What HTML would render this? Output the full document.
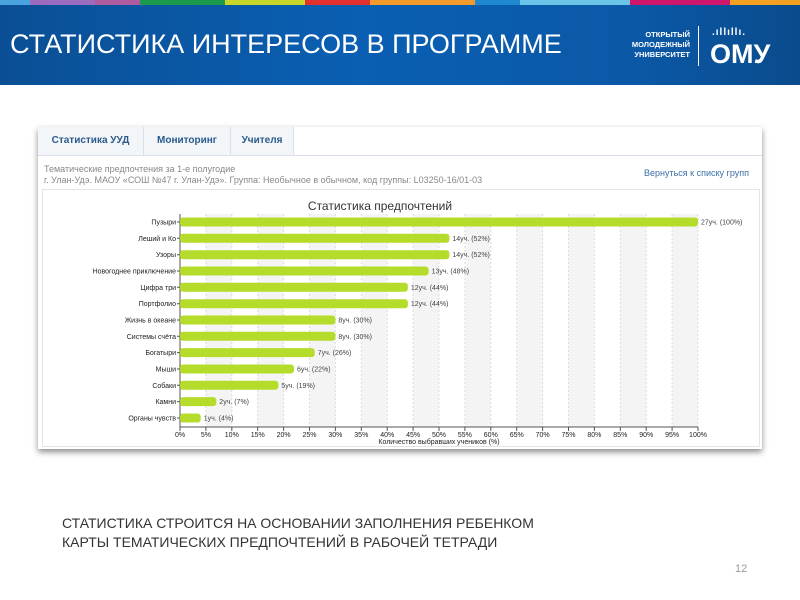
<!DOCTYPE html><html><head><meta charset="utf-8"><style>
body{margin:0;width:800px;height:600px;background:#fff;position:relative;overflow:hidden;font-family:"Liberation Sans",sans-serif}
.hdr{position:absolute;left:0;top:0;width:800px;height:85px;background:linear-gradient(90deg,#0a4f95 0%,#0a5fb3 45%,#0b58a6 80%,#0a4b8c 100%)}
.stripe{position:absolute;top:0;height:5px}
.t{position:absolute;left:10px;top:29px;color:#fff;font-size:27px;letter-spacing:0}
.panel{position:absolute;left:38px;top:127px;width:724px;height:322px;background:#fff;box-shadow:0 3px 6px rgba(0,0,0,.45)}
.tab{position:absolute;top:0;height:28px;line-height:28px;font-size:10px;font-weight:bold;color:#2a5a8a;text-align:center;background:#f3f6f9;border-right:1px solid #dde}
svg{position:absolute;left:0;top:0}
</style></head><body>
<div class="hdr">
<div class="stripe" style="left:0;width:30px;background:#4aa3df"></div>
<div class="stripe" style="left:30px;width:65px;background:#9b6bbf"></div>
<div class="stripe" style="left:95px;width:45px;background:#b05aa0"></div>
<div class="stripe" style="left:140px;width:85px;background:#1a9a4a"></div>
<div class="stripe" style="left:225px;width:80px;background:#c8d62a"></div>
<div class="stripe" style="left:305px;width:65px;background:#e53030"></div>
<div class="stripe" style="left:370px;width:105px;background:#f39a2b"></div>
<div class="stripe" style="left:475px;width:45px;background:#1e88d0"></div>
<div class="stripe" style="left:520px;width:110px;background:#6cc4e8"></div>
<div class="stripe" style="left:630px;width:100px;background:#d0156c"></div>
<div class="stripe" style="left:730px;width:70px;background:#f4a020"></div>
<div class="t">СТАТИСТИКА ИНТЕРЕСОВ  В ПРОГРАММЕ</div>
<div style="position:absolute;left:610px;top:30px;width:80px;color:#fff;font-size:7.5px;line-height:10px;text-align:right;font-weight:bold">ОТКРЫТЫЙ<br>МОЛОДЕЖНЫЙ<br>УНИВЕРСИТЕТ</div>
<div style="position:absolute;left:698px;top:26px;width:1px;height:40px;background:#fff"></div>
<div style="position:absolute;left:712px;top:27px;color:#fff;font-size:10px;font-weight:bold;letter-spacing:1px">.ıllıllı.</div>
<div style="position:absolute;left:710px;top:39px;color:#fff;font-size:27px;font-weight:bold">ОМУ</div>
</div>
<div class="panel">
<div style="position:absolute;left:0;top:0;width:724px;height:28px;border-bottom:1px solid #dde"></div>
<div class="tab" style="left:0;width:105px">Статистика УУД</div>
<div class="tab" style="left:106px;width:86px">Мониторинг</div>
<div class="tab" style="left:193px;width:62px">Учителя</div>
<div style="position:absolute;left:6px;top:37px;font-size:9px;color:#888;line-height:11px">Тематические предпочтения за 1-е полугодие<br>г. Улан-Удэ. МАОУ «СОШ №47 г. Улан-Удэ». Группа: Необычное в обычном, код группы: L03250-16/01-03</div>
<div style="position:absolute;left:606px;top:41px;font-size:9px;color:#3a6fa8">Вернуться к списку групп</div>
<div style="position:absolute;left:4px;top:62px;width:716px;height:256px;border:1px solid #e4e4e4"></div>
</div>
<svg width="800" height="600" font-family="Liberation Sans,sans-serif">
<text x="380" y="210" font-size="12" fill="#333" text-anchor="middle">Статистика предпочтений</text>
<g fill="#f4f4f4">
<rect x="205.9" y="214" width="25.9" height="213"/><rect x="257.7" y="214" width="25.9" height="213"/><rect x="309.5" y="214" width="25.9" height="213"/><rect x="361.3" y="214" width="25.9" height="213"/><rect x="413.1" y="214" width="25.9" height="213"/><rect x="464.9" y="214" width="25.9" height="213"/><rect x="516.7" y="214" width="25.9" height="213"/><rect x="568.5" y="214" width="25.9" height="213"/><rect x="620.3" y="214" width="25.9" height="213"/><rect x="672.1" y="214" width="25.9" height="213"/>
</g>
<path stroke="#dcdcdc" stroke-dasharray="2,2" d="M205.9 214V427M231.8 214V427M257.7 214V427M283.6 214V427M309.5 214V427M335.4 214V427M361.3 214V427M387.2 214V427M413.1 214V427M439 214V427M464.9 214V427M490.8 214V427M516.7 214V427M542.6 214V427M568.5 214V427M594.4 214V427M620.3 214V427M646.2 214V427M672.1 214V427M698 214V427"/>
<path stroke="#555" d="M180 427V431M205.9 427V431M231.8 427V431M257.7 427V431M283.6 427V431M309.5 427V431M335.4 427V431M361.3 427V431M387.2 427V431M413.1 427V431M439 427V431M464.9 427V431M490.8 427V431M516.7 427V431M542.6 427V431M568.5 427V431M594.4 427V431M620.3 427V431M646.2 427V431M672.1 427V431M698 427V431M180 214V427M180 427H698M177 222H180M177 238.3H180M177 254.7H180M177 271H180M177 287.3H180M177 303.7H180M177 320H180M177 336.3H180M177 352.6H180M177 369H180M177 385.3H180M177 401.6H180M177 418H180"/>
<g font-size="7" fill="#222" text-anchor="middle">
<text x="180" y="437">0%</text><text x="205.9" y="437">5%</text><text x="231.8" y="437">10%</text><text x="257.7" y="437">15%</text><text x="283.6" y="437">20%</text><text x="309.5" y="437">25%</text><text x="335.4" y="437">30%</text><text x="361.3" y="437">35%</text><text x="387.2" y="437">40%</text><text x="413.1" y="437">45%</text><text x="439" y="437">50%</text><text x="464.9" y="437">55%</text><text x="490.8" y="437">60%</text><text x="516.7" y="437">65%</text><text x="542.6" y="437">70%</text><text x="568.5" y="437">75%</text><text x="594.4" y="437">80%</text><text x="620.3" y="437">85%</text><text x="646.2" y="437">90%</text><text x="672.1" y="437">95%</text><text x="698" y="437">100%</text>
<text x="439" y="444">Количество выбравших учеников (%)</text>
</g>
<g fill="#b5dc2a">
<rect x="180" y="217.5" width="518" height="9" rx="3"/>
<rect x="180" y="233.8" width="269.4" height="9" rx="3"/>
<rect x="180" y="250.2" width="269.4" height="9" rx="3"/>
<rect x="180" y="266.5" width="248.6" height="9" rx="3"/>
<rect x="180" y="282.8" width="227.9" height="9" rx="3"/>
<rect x="180" y="299.2" width="227.9" height="9" rx="3"/>
<rect x="180" y="315.5" width="155.4" height="9" rx="3"/>
<rect x="180" y="331.8" width="155.4" height="9" rx="3"/>
<rect x="180" y="348.1" width="134.7" height="9" rx="3"/>
<rect x="180" y="364.5" width="114" height="9" rx="3"/>
<rect x="180" y="380.8" width="98.4" height="9" rx="3"/>
<rect x="180" y="397.1" width="36.3" height="9" rx="3"/>
<rect x="180" y="413.5" width="20.7" height="9" rx="3"/>
</g>
<g font-size="7" fill="#222" text-anchor="end">
<text x="176" y="224.5">Пузыри</text><text x="176" y="240.8">Леший и Ко</text><text x="176" y="257.2">Узоры</text><text x="176" y="273.5">Новогоднее приключение</text><text x="176" y="289.8">Цифра три</text><text x="176" y="306.2">Портфолио</text><text x="176" y="322.5">Жизнь в океане</text><text x="176" y="338.8">Системы счёта</text><text x="176" y="355.1">Богатыри</text><text x="176" y="371.5">Мыши</text><text x="176" y="387.8">Собаки</text><text x="176" y="404.1">Камни</text><text x="176" y="420.5">Органы чувств</text>
</g>
<g font-size="7" fill="#444">
<text x="701" y="224.5">27уч. (100%)</text><text x="452.4" y="240.8">14уч. (52%)</text><text x="452.4" y="257.2">14уч. (52%)</text><text x="431.6" y="273.5">13уч. (48%)</text><text x="410.9" y="289.8">12уч. (44%)</text><text x="410.9" y="306.2">12уч. (44%)</text><text x="338.4" y="322.5">8уч. (30%)</text><text x="338.4" y="338.8">8уч. (30%)</text><text x="317.7" y="355.1">7уч. (26%)</text><text x="297" y="371.5">6уч. (22%)</text><text x="281.4" y="387.8">5уч. (19%)</text><text x="219.3" y="404.1">2уч. (7%)</text><text x="203.7" y="420.5">1уч. (4%)</text>
</g>
</svg>
<div style="position:absolute;left:62px;top:514px;font-size:14px;color:#333;line-height:19px">СТАТИСТИКА СТРОИТСЯ НА ОСНОВАНИИ ЗАПОЛНЕНИЯ РЕБЕНКОМ<br>КАРТЫ ТЕМАТИЧЕСКИХ ПРЕДПОЧТЕНИЙ В РАБОЧЕЙ ТЕТРАДИ</div>
<div style="position:absolute;left:735px;top:563px;font-size:11px;color:#999">12</div>
</body></html>
